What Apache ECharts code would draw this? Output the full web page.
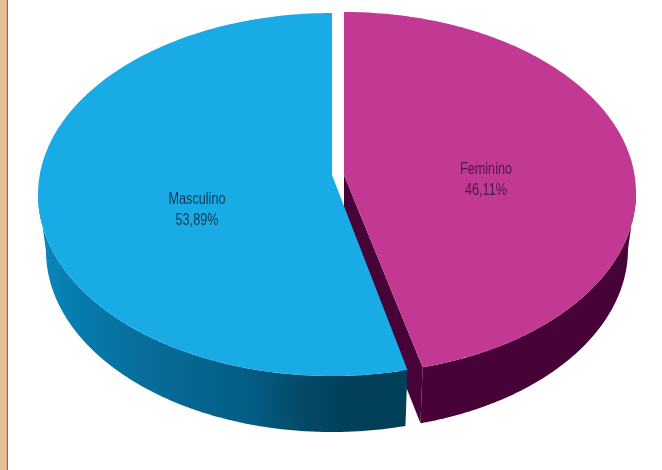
<!DOCTYPE html>
<html>
<head>
<meta charset="utf-8">
<style>html,body{margin:0;padding:0;background:#fff}#c{width:662px;height:470px}</style>
<script src="https://cdn.jsdelivr.net/npm/echarts@6/dist/echarts.min.js"></script>
</head>
<body>
<div id="c"></div>
<script>
var categories = ['Feminino', 'Masculino'];
var percentages = [46.11, 53.89];

var sliceStyles = {
  Feminino: {
    dir: 1, tilt: 0.61, apex: [344, 175], top: [344, 193, 292, 181], bottom: [344, 249, 284, 181],
    depth: 55, fill: '#c13992', wall: '#470238', text: '#471a4c', label: [486, 180]
  },
  Masculino: {
    dir: -1, tilt: 0.644, apex: [332, 175], top: [332, 194.5, 294, 181.5], bottom: [332, 251, 286, 181],
    depth: 55, fill: '#18abe5', text: '#17394f', label: [197, 210],
    wall: {
      type: 'linear', x: 0, y: 0, x2: 1, y2: 0,
      colorStops: [
        { offset: 0, color: '#0a86bc' }, { offset: 0.15, color: '#0678a9' },
        { offset: 0.29, color: '#076d9b' }, { offset: 0.57, color: '#045d85' },
        { offset: 0.71, color: '#034b69' }, { offset: 0.83, color: '#01405a' },
        { offset: 1, color: '#023f58' }
      ]
    }
  }
};

function onEllipse(e, phi) {
  return [e[0] + e[2] * Math.sin(phi), e[1] - e[3] * Math.cos(phi)];
}
// ellipse parameter where the ray leaving the apex at the true pie angle meets the rim
function rimParam(s, angle) {
  var e = s.top, dx = Math.sin(angle), dy = -Math.cos(angle) * s.tilt;
  var ox = (s.apex[0] - e[0]) / e[2], oy = (s.apex[1] - e[1]) / e[3];
  var ax = dx / e[2], ay = dy / e[3];
  var a = ax * ax + ay * ay, b = 2 * (ox * ax + oy * ay), c = ox * ox + oy * oy - 1;
  var k = (-b + Math.sqrt(b * b - 4 * a * c)) / (2 * a);
  var x = ox + ax * k, y = oy + ay * k;
  var phi = Math.atan2(x, -y);
  if (angle > Math.PI && phi < 0) phi += 2 * Math.PI;
  return phi;
}
function arc(e, from, to) {
  var pts = [], n = 180;
  for (var i = 0; i <= n; i++) pts.push(onEllipse(e, from + (to - from) * i / n));
  return pts;
}

function renderSlice(params, api) {
  var name = categories[api.value(0)], v = api.value(1), s = sliceStyles[name];
  var sweep = v / 100 * 2 * Math.PI;
  var end = s.dir * rimParam(s, sweep);
  var topArc = arc(s.top, 0, end);
  var endTop = topArc[topArc.length - 1];
  var endBottom = onEllipse(s.bottom, end);
  var wallTop = arc(s.top, s.dir * Math.PI / 2, end);
  var wallBottom = arc(s.bottom, end, s.dir * Math.PI / 2);
  var children = [];
  children.push({ type: 'polygon', shape: { points: wallTop.concat(wallBottom) }, style: { fill: s.wall } });
  if (s.dir > 0) {
    children.push({
      type: 'polygon',
      shape: { points: [s.apex, endTop, endBottom, [s.apex[0], s.apex[1] + s.depth]] },
      style: { fill: s.wall }
    });
  }
  children.push({ type: 'polygon', shape: { points: [s.apex].concat(topArc) }, style: { fill: s.fill } });
  children.push({
    type: 'text',
    x: s.label[0], y: s.label[1], scaleX: 0.79,
    style: {
      text: name + '\n' + v.toFixed(2).replace('.', ',') + '%',
      x: 0, y: 0, align: 'center', verticalAlign: 'middle',
      lineHeight: 20.5, fontSize: 16, fontFamily: '"Liberation Sans",sans-serif',
      fill: s.text
    }
  });
  return { type: 'group', children: children };
}

var chart = echarts.init(document.getElementById('c'), null, { renderer: 'canvas' });
chart.setOption({
  animation: false,
  backgroundColor: '#ffffff',
  graphic: [
    { type: 'rect', shape: { x: 0, y: 0, width: 6, height: 470 }, style: { fill: '#dfc194' }, silent: true },
    { type: 'rect', shape: { x: 6, y: 0, width: 1, height: 470 }, style: { fill: '#eaa283' }, silent: true },
    { type: 'rect', shape: { x: 7, y: 0, width: 1, height: 470 }, style: { fill: '#e8432f' }, silent: true }
  ],
  series: [{
    type: 'custom',
    coordinateSystem: 'none',
    renderItem: renderSlice,
    data: categories.map(function (c, i) { return [i, percentages[i]]; })
  }]
});
</script>
</body>
</html>
